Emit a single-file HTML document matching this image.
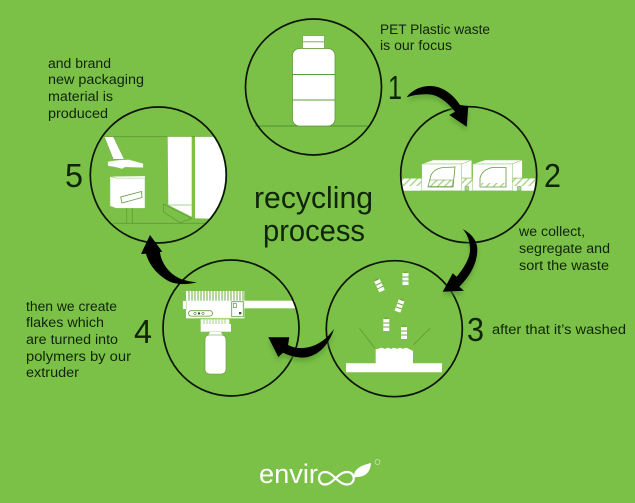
<!DOCTYPE html>
<html>
<head>
<meta charset="utf-8">
<style>
html,body{margin:0;padding:0;background:#7bc147;width:635px;height:503px;overflow:hidden}
svg{display:block}
text{font-family:"Liberation Sans",sans-serif;fill:#10240a}
.l{font-size:13.5px}
.n{font-size:33px}
.t{font-size:31px}
</style>
</head>
<body>
<svg width="635" height="503" viewBox="0 0 635 503" xmlns="http://www.w3.org/2000/svg">
<defs>
<filter id="b" x="-30%" y="-30%" width="160%" height="160%"><feGaussianBlur stdDeviation="2"/></filter>
<pattern id="h" width="7" height="7" patternUnits="userSpaceOnUse" patternTransform="skewX(-45)">
<rect width="7" height="7" fill="#fff"/><rect width="2" height="7" fill="#a9d58c"/>
</pattern>
<clipPath id="c5"><circle cx="158.300" cy="175" r="67"/></clipPath>
<clipPath id="c2"><circle cx="468.700" cy="174.700" r="67"/></clipPath>
<g id="fl"><rect x="-3" y="-6" width="6" height="12" fill="#fff"/><path d="M-3 -2H3M-3 2H3" stroke="#6ea845" stroke-width="1"/><rect x="-2" y="-7.500" width="4" height="1.600" fill="#6ea845"/></g>
</defs>
<rect width="635" height="503" fill="#7bc147"/>

<!-- bottle scene -->
<path d="M255 126H368" stroke="#4f8f2f" stroke-width="1"/>
<rect x="302.500" y="35.500" width="22" height="13" fill="#fff" stroke="#6ea845" stroke-width=".8"/>
<path d="M302.500 41.800H324.500" stroke="#6ea845" stroke-width=".8"/>
<rect x="292.500" y="48.500" width="42.500" height="77.500" rx="7" fill="#fff" stroke="#5f9a3b" stroke-width=".8"/>
<path d="M292.500 74.500H335M292.500 100H335" stroke="#5f9a3b" stroke-width="1"/>

<!-- conveyor scene -->
<g clip-path="url(#c2)">
<rect x="400" y="178.500" width="137" height="12.200" fill="#fff"/>
<rect x="400" y="178.500" width="137" height="7.500" fill="url(#h)"/>
</g>
<path d="M421.700 164L433 160H471.700L461.700 164Z" fill="#fff" stroke="#8cc46a" stroke-width=".5"/>
<rect x="421.700" y="164" width="40" height="26.700" fill="#fff" stroke="#8cc46a" stroke-width=".5"/>
<path d="M461.700 164L471.700 160V178H461.700Z" fill="#fff" stroke="#8cc46a" stroke-width=".5"/>
<path d="M428 187L431 175Q435 168 444 167.500L455 167L453 187Z" fill="#fff" stroke="#5f9a3b" stroke-width=".8"/>
<path d="M430 180H453L452.500 186.500H429" fill="url(#h)" stroke="#5f9a3b" stroke-width=".5"/>
<path d="M472.700 164L485 160H522.300L512.300 164Z" fill="#fff" stroke="#8cc46a" stroke-width=".5"/>
<rect x="472.700" y="164" width="39.600" height="26.700" fill="#fff" stroke="#8cc46a" stroke-width=".5"/>
<path d="M512.300 164L522.300 160V178H512.300Z" fill="#fff" stroke="#8cc46a" stroke-width=".5"/>
<path d="M480 187V178Q482 170 492 167.500H506V187Z" fill="#fff" stroke="#5f9a3b" stroke-width=".8"/>
<rect x="481" y="183" width="24" height="3.500" fill="url(#h)"/>
<rect x="465" y="186.500" width="3.500" height="4" fill="#a9d58c" stroke="#5f9a3b" stroke-width=".5"/>
<rect x="517.500" y="186.500" width="3.500" height="4" fill="#a9d58c" stroke="#5f9a3b" stroke-width=".5"/>

<!-- washing scene -->
<use href="#fl" transform="translate(379.500 285.700) rotate(-25)"/>
<use href="#fl" transform="translate(405.500 279)"/>
<use href="#fl" transform="translate(399.500 306) rotate(20)"/>
<use href="#fl" transform="translate(386.300 325)"/>
<use href="#fl" transform="translate(404 333)"/>
<path d="M359.300 328.300L375 348.300M430 328.300L413.300 345" stroke="#5f9a3b" stroke-width=".8" fill="none"/>
<path d="M346 363.300H375.700V349L378 349Q381 346.500 385 349Q388 346.500 391 349Q394 346.500 397 349Q400 346.500 403 349Q406 346.500 409 349L413 351V363.300H442V372.300H346Z" fill="#fff"/>

<!-- extruder scene -->
<rect x="186" y="291" width="58.300" height="10" fill="#fff"/>
<path d="M189 291V301M192 291V301M195 291V301M198 291V301M201 291V301M204 291V301M207 291V301M210 291V301M213 291V301M216 291V301M219 291V301M222 291V301M225 291V301M228 291V301M231 291V301M234 291V301M237 291V301M240 291V301M243 291V301" stroke="#6ea845" stroke-width="1"/>
<rect x="186" y="300.700" width="58.300" height="17.600" fill="#fff"/>
<rect x="182.700" y="300.700" width="3.500" height="8.600" fill="#fff" stroke="#8cc46a" stroke-width=".5"/>
<rect x="244.300" y="300.700" width="50.700" height="7.600" fill="#fff"/>
<rect x="231.700" y="301.700" width="11.600" height="15" fill="#fff" stroke="#5f9a3b" stroke-width=".8"/>
<rect x="233.300" y="303.500" width="3" height="4" fill="none" stroke="#5f9a3b" stroke-width=".7"/>
<rect x="239" y="312" width="2.300" height="2.300" fill="#2d5a18"/>
<rect x="188.500" y="310.700" width="24" height="5.400" rx="2.700" fill="#fff" stroke="#5f9a3b" stroke-width=".8"/>
<circle cx="199" cy="313.400" r="1.200" fill="#2d5a18"/><circle cx="203" cy="313.400" r="1.200" fill="none" stroke="#2d5a18" stroke-width=".5"/><circle cx="195" cy="313.400" r="1.200" fill="none" stroke="#2d5a18" stroke-width=".5"/>
<rect x="200.700" y="319.300" width="28.600" height="5" fill="#fff"/>
<path d="M204 319.300V324M207 319.300V324M210 319.300V324M213 319.300V324M216 319.300V324M219 319.300V324M222 319.300V324M225 319.300V324" stroke="#8cc46a" stroke-width=".8"/>
<rect x="200.700" y="324" width="30.300" height="7.700" fill="#fff"/>
<path d="M210 332H221L223 336H208Z" fill="#fff"/>
<path d="M205 340Q205 335 210 335H221Q226 335 226 340V369Q226 374 221 374H210Q205 374 205 369Z" fill="#fff" stroke="#5f9a3b" stroke-width=".6"/>

<!-- box scene -->
<path d="M105 136.700H213M113 223.300H207" stroke="#5f9a3b" stroke-width=".8" fill="none"/>
<path d="M104.300 136.700H113.300L124.300 159.300H113.300Z" fill="#fff" stroke="#5f9a3b" stroke-width=".4"/>
<path d="M107.700 161.500L118 160L129 159.500L136 161.500L143.300 163.500V167.700L125 167.300L122 169L116 167.300L108 166Z" fill="#fff" stroke="#8cc46a" stroke-width=".5"/>
<path d="M110 176.500L118 178.500H145V208.300H116L110 206Z" fill="#fff" stroke="#8cc46a" stroke-width=".5"/>
<path d="M112 176.500L145 176V178.500H118Z" fill="#eef7e8"/>
<path d="M120.700 197L141.500 191.500L142 197.500L122 203Z" fill="none" stroke="#5f9a3b" stroke-width=".8"/>
<path d="M126.700 208.300V223M132.300 208.300V223" stroke="#5f9a3b" stroke-width=".8"/>
<path d="M167.700 136.700H191.700V216.700L168.300 205Z" fill="#fff"/>
<path d="M168 205H191.700" stroke="#8cc46a" stroke-width=".7"/>
<g clip-path="url(#c5)"><path d="M195 136.700H232V219.300L195 218.300Z" fill="#fff"/></g>
<path d="M163.300 204L191.700 218.300L180 222.700L163.300 211.700Z" fill="none" stroke="#5f9a3b" stroke-width=".8"/>

<!-- circles -->
<g fill="none" stroke="#0a1405" stroke-width="1.700">
<circle cx="313.500" cy="87" r="68"/>
<circle cx="468.700" cy="174.700" r="68"/>
<circle cx="394.300" cy="328.700" r="68"/>
<circle cx="231" cy="328" r="68"/>
<circle cx="158.300" cy="175" r="68"/>
</g>

<!-- arrow shadows -->
<g fill="#4f8f2f" opacity=".55" filter="url(#b)" transform="translate(0 4)">
<path id="sa1" d="M406.700 97.300C411 91 420 86 430 86C442 86 453 94 460 105L468.300 106L466.700 126.700L449.300 115L455 111.700C449 104 441 97 433.300 95C425 93.500 415 94.500 406.700 97.300Z"/>
<path d="M462.700 229C472 234 477.500 241 477.300 250C477 262 472 274 459.300 286.700L464 290.700L442.700 291.700L452.700 273.300L456.700 276.700C464 268 470 258 470 250C470 240 467 234 462.700 229Z"/>
<path d="M334 329C326 340 316 347 303 348C297 348.500 292 347 288 345L289.300 337.300H268.300L278.300 357L283 352.700C290 356 298 358 305 357.500C318 356 329 345 334 329Z"/>
</g>

<!-- arrows -->
<g fill="#000">
<path d="M406.700 97.300C411 91 420 86 430 86C442 86 453 94 460 105L468.300 106L466.700 126.700L449.300 115L455 111.700C449 104 441 97 433.300 95C425 93.500 415 94.500 406.700 97.300Z"/>
<path d="M462.700 229C472 234 477.500 241 477.300 250C477 262 472 274 459.300 286.700L464 290.700L442.700 291.700L452.700 273.300L456.700 276.700C464 268 470 258 470 250C470 240 467 234 462.700 229Z"/>
<path d="M334 329C326 340 316 347 303 348C297 348.500 292 347 288 345L289.300 337.300H268.300L278.300 357L283 352.700C290 356 298 358 305 357.500C318 356 329 345 334 329Z"/>
<path d="M196.700 282.300C190 284.500 178 285 170 281.700C158 276 149 265 146 253.700L141 254L150 235L162.300 251.700L160 252C161 262 168 272 177 277C183 280.500 190 281.500 196.700 282.300Z"/>
</g>

<!-- numbers -->
<text class="n" x="388" y="99" textLength="14" lengthAdjust="spacingAndGlyphs">1</text>
<text class="n" x="544" y="187" textLength="17" lengthAdjust="spacingAndGlyphs">2</text>
<text class="n" x="467" y="341" textLength="17" lengthAdjust="spacingAndGlyphs">3</text>
<text class="n" x="134" y="343" textLength="18" lengthAdjust="spacingAndGlyphs">4</text>
<text class="n" x="65" y="187" textLength="18" lengthAdjust="spacingAndGlyphs">5</text>

<!-- title -->
<text class="t" x="254" y="208" textLength="119" lengthAdjust="spacingAndGlyphs">recycling</text>
<text class="t" x="263" y="241" textLength="102" lengthAdjust="spacingAndGlyphs">process</text>

<!-- labels -->
<text class="l" x="380" y="34" textLength="110" lengthAdjust="spacingAndGlyphs">PET Plastic waste</text>
<text class="l" x="380" y="50" textLength="72" lengthAdjust="spacingAndGlyphs">is our focus</text>
<text class="l" x="48" y="68" textLength="63" lengthAdjust="spacingAndGlyphs">and brand</text>
<text class="l" x="48" y="84" textLength="96" lengthAdjust="spacingAndGlyphs">new packaging</text>
<text class="l" x="48" y="101" textLength="65" lengthAdjust="spacingAndGlyphs">material is</text>
<text class="l" x="48" y="118" textLength="60" lengthAdjust="spacingAndGlyphs">produced</text>
<text class="l" x="519" y="236" textLength="66" lengthAdjust="spacingAndGlyphs">we collect,</text>
<text class="l" x="519" y="253" textLength="91" lengthAdjust="spacingAndGlyphs">segregate and</text>
<text class="l" x="519" y="270" textLength="90" lengthAdjust="spacingAndGlyphs">sort the waste</text>
<text class="l" x="492" y="334" textLength="134" lengthAdjust="spacingAndGlyphs">after that it’s washed</text>
<text class="l" x="26" y="311" textLength="91" lengthAdjust="spacingAndGlyphs">then we create</text>
<text class="l" x="26" y="327" textLength="78" lengthAdjust="spacingAndGlyphs">flakes which</text>
<text class="l" x="26" y="344" textLength="92" lengthAdjust="spacingAndGlyphs">are turned into</text>
<text class="l" x="26" y="361" textLength="105" lengthAdjust="spacingAndGlyphs">polymers by our</text>
<text class="l" x="26" y="377" textLength="53" lengthAdjust="spacingAndGlyphs">extruder</text>

<!-- logo -->
<text x="259" y="483" font-size="27" style="fill:#fff" textLength="59" lengthAdjust="spacingAndGlyphs">envir</text>
<path d="M325 472C317 472 317 484.500 325 484.500C333 484.500 338 472 347 472C356 472 356 484.500 347 484.500C338 484.500 333 472 325 472Z" fill="none" stroke="#fff" stroke-width="2.200"/>
<path d="M354 477Q353 467 371 463Q370 478 354 477Z" fill="#fff"/>
<circle cx="377.500" cy="462" r="2.500" fill="none" stroke="#cfe8bd" stroke-width=".7"/>
</svg>
</body>
</html>
